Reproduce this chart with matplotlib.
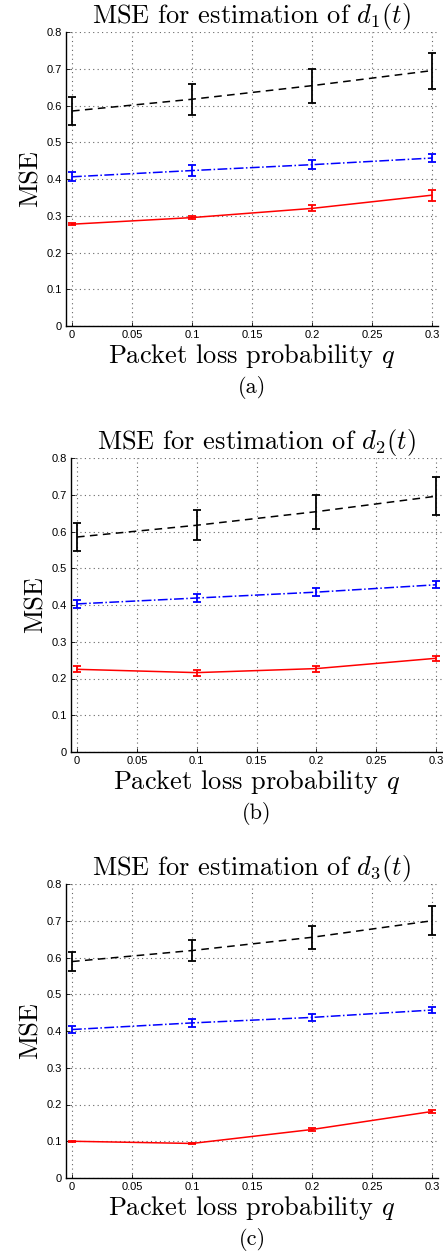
import matplotlib
matplotlib.use('Agg')
import matplotlib.pyplot as plt

# packet loss probabilities
q = [0.0, 0.1, 0.2, 0.3]

# panel (a): d1(t)
a_black = [0.585, 0.617, 0.654, 0.695]
a_black_err = [0.037, 0.042, 0.046, 0.049]
a_blue = [0.406, 0.423, 0.439, 0.457]
a_blue_err = [0.012, 0.014, 0.013, 0.012]
a_red = [0.277, 0.295, 0.320, 0.356]
a_red_err = [0.003, 0.005, 0.008, 0.015]

# panel (b): d2(t)
b_black = [0.585, 0.617, 0.654, 0.696]
b_black_err = [0.037, 0.041, 0.046, 0.051]
b_blue = [0.403, 0.419, 0.435, 0.455]
b_blue_err = [0.010, 0.012, 0.010, 0.010]
b_red = [0.225, 0.216, 0.227, 0.255]
b_red_err = [0.008, 0.008, 0.008, 0.007]

# panel (c): d3(t)
c_black = [0.589, 0.619, 0.655, 0.700]
c_black_err = [0.027, 0.028, 0.032, 0.040]
c_blue = [0.404, 0.422, 0.437, 0.457]
c_blue_err = [0.010, 0.010, 0.010, 0.007]
c_red = [0.100, 0.094, 0.132, 0.181]
c_red_err = [0.002, 0.002, 0.003, 0.005]

x_ticks = [0, 0.05, 0.1, 0.15, 0.2, 0.25, 0.3]
x_ticklabels = ['0', '0.05', '0.1', '0.15', '0.2', '0.25', '0.3']
y_ticks = [0, 0.1, 0.2, 0.3, 0.4, 0.5, 0.6, 0.7, 0.8]
y_ticklabels = ['0', '0.1', '0.2', '0.3', '0.4', '0.5', '0.6', '0.7', '0.8']

panels = [
    ('$d_1(t)$', '(a)', a_black, a_black_err, a_blue, a_blue_err, a_red, a_red_err),
    ('$d_2(t)$', '(b)', b_black, b_black_err, b_blue, b_blue_err, b_red, b_red_err),
    ('$d_3(t)$', '(c)', c_black, c_black_err, c_blue, c_blue_err, c_red, c_red_err),
]

plt.rcParams['mathtext.fontset'] = 'cm'
plt.rcParams['axes.formatter.use_mathtext'] = True

W, H = 443, 1251
fig = plt.figure(figsize=(W / 100, H / 100), dpi=100)

# axes boxes in pixels: left, top, right, bottom
boxes = [(66, 32, 438, 326), (71, 458, 442, 752), (66, 884, 438, 1178)]

serif = 'cmr10'
for (name, tag, bk, bke, bl, ble, rd, rde), (l, t, r, b) in zip(panels, boxes):
    ax = fig.add_axes([l / W, 1 - b / H, (r - l) / W, (b - t) / H])

    ax.errorbar(q, bk, yerr=bke, fmt='--', color='black', lw=1.1,
                elinewidth=1.3, capsize=2.6, capthick=1.3, dashes=(5, 3.5))
    ax.errorbar(q, bl, yerr=ble, fmt='-.', color='blue', lw=1.1,
                elinewidth=1.3, capsize=2.6, capthick=1.3)
    ax.errorbar(q, rd, yerr=rde, fmt='-', color='red', lw=1.1,
                elinewidth=1.3, capsize=2.6, capthick=1.3)

    ax.set_xlim(-0.005, 0.305)
    ax.set_ylim(0, 0.8)
    ax.set_xticks(x_ticks)
    ax.set_xticklabels(x_ticklabels, family='Liberation Sans', fontsize=8)
    ax.set_yticks(y_ticks)
    ax.set_yticklabels(y_ticklabels, family='Liberation Sans', fontsize=8)
    ax.tick_params(direction='in', length=3, width=0.6, pad=3)
    ax.grid(True, linestyle=(0, (1, 3)), color='0.4', lw=0.8)

    for side in ['top', 'right']:
        ax.spines[side].set_visible(False)
    for side in ['left', 'bottom']:
        ax.spines[side].set_linewidth(1.0)

    ax.set_title('MSE for estimation of ' + name, family=serif, fontsize=19, pad=3)
    ax.set_ylabel('MSE', family=serif, fontsize=19, labelpad=3)
    ax.set_xlabel('Packet loss probability $q$', family=serif, fontsize=19, labelpad=1)
    ax.text(0.5, -0.21, tag, transform=ax.transAxes, ha='center', va='center',
            family=serif, fontsize=16)

fig.savefig('out.png', dpi=100)
